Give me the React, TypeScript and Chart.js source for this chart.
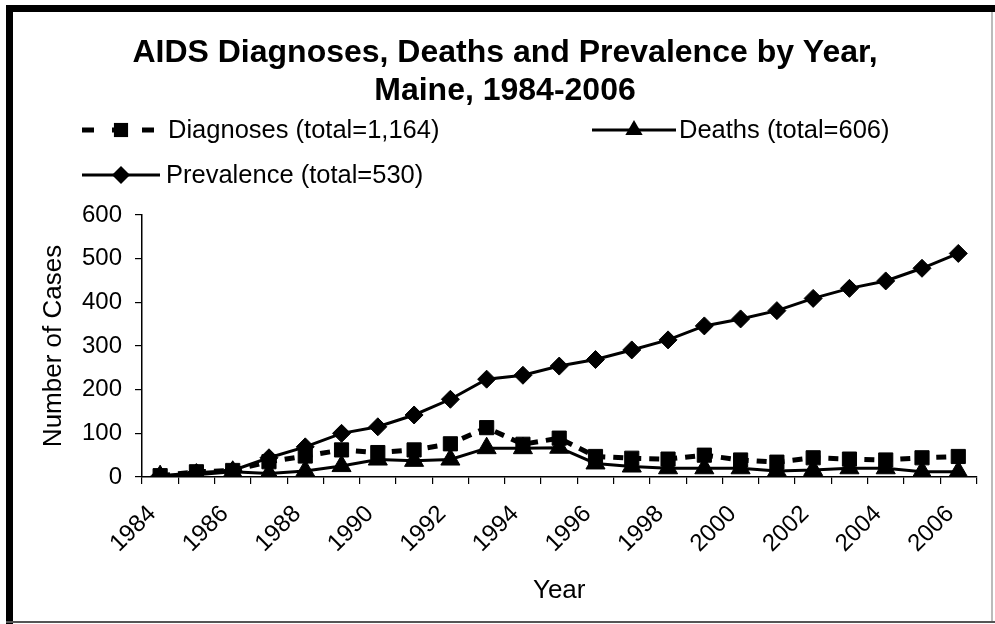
import React, { useEffect, useRef } from "react";
import { Chart, registerables } from "chart.js";

Chart.register(...registerables);

const years = ["1984", "1985", "1986", "1987", "1988", "1989", "1990", "1991", "1992", "1993", "1994", "1995", "1996", "1997", "1998", "1999", "2000", "2001", "2002", "2003", "2004", "2005", "2006"];
const diagnoses = [3, 12, 15, 35, 48, 62, 56, 62, 76, 113, 75, 89, 47, 43, 41, 50, 39, 34, 44, 41, 39, 44, 47];
const deaths = [2, 5, 12, 8, 14, 25, 40, 37, 40, 66, 66, 67, 31, 24, 20, 20, 20, 14, 16, 20, 20, 12, 12];
const prevalence = [3, 10, 15, 44, 69, 100, 115, 142, 178, 224, 233, 254, 269, 291, 314, 346, 362, 381, 409, 432, 449, 478, 512];

const titleLines = ["AIDS Diagnoses, Deaths and Prevalence by Year,", "Maine, 1984-2006"];
const legendLabels = ["Diagnoses (total=1,164)", "Deaths (total=606)", "Prevalence (total=530)"];
const yTitle = "Number of Cases";
const xTitle = "Year";

const FONT = "'Liberation Sans', Arial, sans-serif";

function marker(ctx: CanvasRenderingContext2D, style: string, r: number, x: number, y: number) {
  ctx.beginPath();
  if (style === "rect") {
    const s = r * Math.SQRT1_2;
    ctx.rect(x - s, y - s, 2 * s, 2 * s);
  } else if (style === "triangle") {
    ctx.moveTo(x, y - r);
    ctx.lineTo(x + r * 0.866, y + r * 0.5);
    ctx.lineTo(x - r * 0.866, y + r * 0.5);
    ctx.closePath();
  } else {
    ctx.moveTo(x, y - r);
    ctx.lineTo(x + r, y);
    ctx.lineTo(x, y + r);
    ctx.lineTo(x - r, y);
    ctx.closePath();
  }
  ctx.fill();
}

const decorPlugin = {
  id: "decor",
  beforeDraw(chart: any) {
    const ctx = chart.ctx;
    ctx.save();
    ctx.fillStyle = "#ffffff";
    ctx.fillRect(0, 0, chart.width, chart.height);
    ctx.restore();
  },
  afterDraw(chart: any) {
    const ctx = chart.ctx as CanvasRenderingContext2D;
    ctx.save();
    // frame
    ctx.fillStyle = "#000";
    ctx.fillRect(6, 5, chart.width - 6, 7);
    ctx.fillRect(6, 5, 7, chart.height - 5);
    ctx.fillStyle = "#555";
    ctx.fillRect(6, chart.height - 3, chart.width - 6, 2);
    ctx.fillStyle = "#bbb";
    ctx.fillRect(chart.width - 4, 12, 2, chart.height - 15);

    // title
    ctx.fillStyle = "#000";
    ctx.font = `bold 32px ${FONT}`;
    ctx.textAlign = "center";
    ctx.textBaseline = "middle";
    ctx.fillText(titleLines[0], 505, 53);
    ctx.fillText(titleLines[1], 505, 91);

    // legend
    const drawSample = (x0: number, x1: number, y: number, dash: number[], lw: number, style: string, r: number) => {
      ctx.save();
      ctx.strokeStyle = "#000";
      ctx.lineWidth = lw;
      ctx.setLineDash(dash);
      ctx.beginPath();
      ctx.moveTo(x0, y);
      ctx.lineTo(x1, y);
      ctx.stroke();
      ctx.restore();
      ctx.fillStyle = "#000";
      marker(ctx, style, r, (x0 + x1) / 2, y);
    };
    drawSample(82, 160, 130, [12, 18], 5, "rect", 10);
    drawSample(592, 676, 130, [], 3, "triangle", 10);
    drawSample(82, 160, 175, [], 3, "rectRot", 9);
    ctx.fillStyle = "#000";
    ctx.font = `25.5px ${FONT}`;
    ctx.textAlign = "left";
    ctx.textBaseline = "middle";
    ctx.fillText(legendLabels[0], 168, 131);
    ctx.fillText(legendLabels[1], 679, 131);
    ctx.fillText(legendLabels[2], 166, 176);
    ctx.restore();
  },
};

export default function App() {
  const ref = useRef<HTMLCanvasElement>(null);
  useEffect(() => {
    if (!ref.current) return;
    const chart = new Chart(ref.current, {
      type: "line",
      data: {
        labels: years,
        datasets: [
          {
            label: legendLabels[2],
            data: prevalence,
            borderColor: "#000",
            backgroundColor: "#000",
            borderWidth: 3,
            pointStyle: "rectRot",
            pointRadius: 9,
            pointBorderWidth: 1,
            order: 1,
          },
          {
            label: legendLabels[0],
            data: diagnoses,
            borderColor: "#000",
            backgroundColor: "#000",
            borderWidth: 5,
            borderDash: [10, 8],
            pointStyle: "rect",
            pointRadius: 10,
            pointBorderWidth: 1,
            order: 3,
          },
          {
            label: legendLabels[1],
            data: deaths,
            borderColor: "#000",
            backgroundColor: "#000",
            borderWidth: 3,
            pointStyle: "triangle",
            pointRadius: 11,
            pointBorderWidth: 1,
            order: 2,
          },
        ],
      },
      options: {
        animation: false,
        responsive: false,
        layout: { padding: { top: 215, left: 0, right: 16, bottom: 0 } },
        plugins: {
          legend: { display: false },
          title: { display: false },
          tooltip: { enabled: false },
        },
        scales: {
          x: {
            type: "category",
            offset: true,
            afterFit: (s: any) => { s.height = 147; },
            grid: { offset: true, drawOnChartArea: false, drawTicks: true, tickLength: 7, color: "#000", lineWidth: 1.2 },
            border: { display: true, color: "#000", width: 1.5 },
            ticks: {
              autoSkip: false,
              maxRotation: 45,
              minRotation: 45,
              padding: 16,
              labelOffset: -8,
              color: "#000",
              font: { family: FONT, size: 24 },
              callback: function (this: any, _v: any, i: number) {
                return i % 2 === 0 ? years[i] : "";
              },
            },
            title: { display: true, text: xTitle, color: "#000", font: { family: FONT, size: 26 }, padding: { top: 0, bottom: 18 } },
          },
          y: {
            min: 0,
            max: 600,
            afterFit: (s: any) => { s.width = 142; },
            grid: { drawOnChartArea: false, drawTicks: true, tickLength: 7, color: "#000", lineWidth: 1.2 },
            border: { display: true, color: "#000", width: 1.5 },
            ticks: { stepSize: 100, padding: 13, color: "#000", font: { family: FONT, size: 24 } },
            title: { display: true, text: yTitle, color: "#000", font: { family: FONT, size: 26 }, padding: { top: 38, bottom: 0 } },
          },
        },
      },
      plugins: [decorPlugin],
    });
    return () => chart.destroy();
  }, []);
  return (
    <div style={{ position: "fixed", left: 0, top: 0, width: 995, height: 624 }}>
      <canvas ref={ref} width={995} height={624} style={{ width: 995, height: 624, display: "block" }} />
    </div>
  );
}
